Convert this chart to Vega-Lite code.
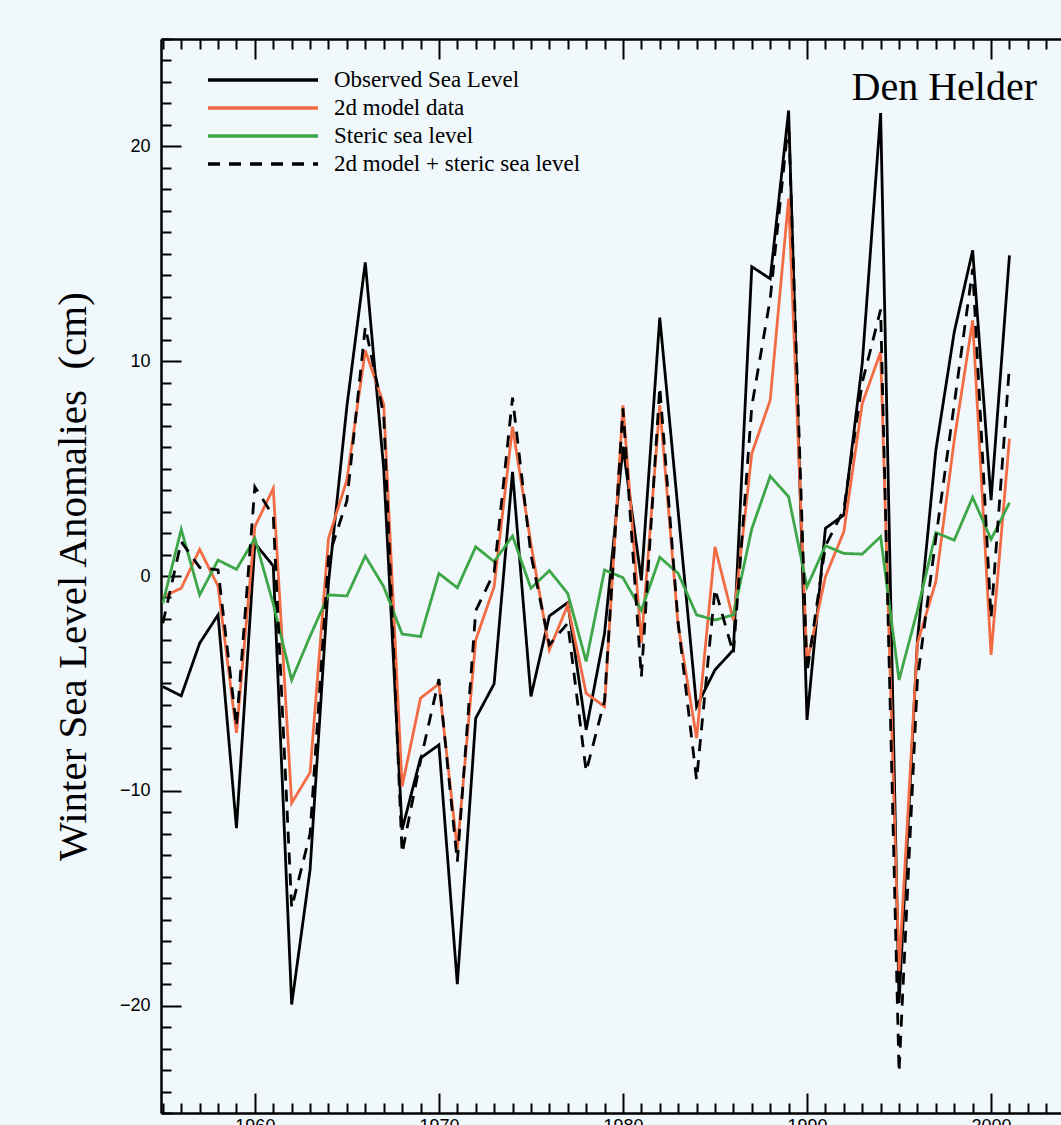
{
  "$schema": "https://vega.github.io/schema/vega-lite/v6.json",
  "width": 900,
  "height": 1074,
  "autosize": {"type": "none"},
  "padding": {"left": 161, "top": 39, "right": 0, "bottom": 12},
  "background": "#f0f8fc",
  "config": {
    "view": {"stroke": null},
    "axis": {
      "domainColor": "black",
      "domainWidth": 2.5,
      "tickColor": "black",
      "tickWidth": 2,
      "grid": false,
      "labelColor": "black",
      "labelFont": "Liberation Sans",
      "labelFontSize": 18,
      "labelOverlap": false,
      "labelFlush": false
    }
  },
  "title": {
    "text": "Den Helder",
    "orient": "top",
    "anchor": "end",
    "frame": "group",
    "font": "Liberation Serif",
    "fontSize": 40,
    "fontWeight": "normal",
    "color": "black",
    "baseline": "alphabetic",
    "offset": -110,
    "dx": -24
  },
  "data": {
    "values": [
      {"year": 1955, "obs": -5.15, "model": -0.96, "steric": -1.27, "combined": -2.2},
      {"year": 1956, "obs": -5.58, "model": -0.57, "steric": 2.17, "combined": 1.6},
      {"year": 1957, "obs": -3.13, "model": 1.24, "steric": -0.88, "combined": 0.4},
      {"year": 1958, "obs": -1.81, "model": -0.47, "steric": 0.74, "combined": 0.28},
      {"year": 1959, "obs": -11.74, "model": -7.3, "steric": 0.31, "combined": -7.0},
      {"year": 1960, "obs": 1.52, "model": 2.3, "steric": 1.75, "combined": 4.15},
      {"year": 1961, "obs": 0.47, "model": 4.08, "steric": -1.3, "combined": 2.8},
      {"year": 1962, "obs": -19.95, "model": -10.57, "steric": -4.84, "combined": -15.45},
      {"year": 1963, "obs": -13.67, "model": -9.15, "steric": -2.8, "combined": -12.0},
      {"year": 1964, "obs": -0.3, "model": 1.75, "steric": -0.88, "combined": 0.87},
      {"year": 1965, "obs": 7.9, "model": 4.47, "steric": -0.93, "combined": 3.5},
      {"year": 1966, "obs": 14.6, "model": 10.5, "steric": 0.93, "combined": 11.6},
      {"year": 1967, "obs": 5.0, "model": 8.0, "steric": -0.5, "combined": 7.5},
      {"year": 1968, "obs": -11.81, "model": -9.8, "steric": -2.7, "combined": -12.9},
      {"year": 1969, "obs": -8.48, "model": -5.69, "steric": -2.82, "combined": -8.6},
      {"year": 1970, "obs": -7.86, "model": -5.02, "steric": 0.12, "combined": -4.8},
      {"year": 1971, "obs": -19.0, "model": -12.74, "steric": -0.55, "combined": -13.3},
      {"year": 1972, "obs": -6.62, "model": -2.98, "steric": 1.36, "combined": -1.62},
      {"year": 1973, "obs": -5.02, "model": -0.5, "steric": 0.67, "combined": 0.17},
      {"year": 1974, "obs": 4.85, "model": 6.95, "steric": 1.86, "combined": 8.3},
      {"year": 1975, "obs": -5.61, "model": 1.5, "steric": -0.57, "combined": 1.0},
      {"year": 1976, "obs": -1.86, "model": -3.44, "steric": 0.25, "combined": -3.2},
      {"year": 1977, "obs": -1.24, "model": -1.35, "steric": -0.81, "combined": -2.2},
      {"year": 1978, "obs": -7.16, "model": -5.46, "steric": -3.98, "combined": -9.1},
      {"year": 1979, "obs": -2.67, "model": -6.08, "steric": 0.28, "combined": -5.8},
      {"year": 1980, "obs": 6.02, "model": 7.95, "steric": -0.08, "combined": 7.8},
      {"year": 1981, "obs": -0.2, "model": -3.13, "steric": -1.6, "combined": -4.7},
      {"year": 1982, "obs": 12.03, "model": 7.95, "steric": 0.87, "combined": 8.8},
      {"year": 1983, "obs": 3.0, "model": -2.3, "steric": 0.12, "combined": -2.2},
      {"year": 1984, "obs": -6.08, "model": -7.55, "steric": -1.81, "combined": -9.5},
      {"year": 1985, "obs": -4.37, "model": 1.36, "steric": -2.05, "combined": -0.6},
      {"year": 1986, "obs": -3.44, "model": -2.05, "steric": -1.81, "combined": -3.6},
      {"year": 1987, "obs": 14.4, "model": 5.7, "steric": 2.2, "combined": 7.9},
      {"year": 1988, "obs": 13.84, "model": 8.19, "steric": 4.65, "combined": 12.9},
      {"year": 1989, "obs": 21.67, "model": 17.57, "steric": 3.69, "combined": 21.2},
      {"year": 1990, "obs": -6.7, "model": -4.06, "steric": -0.5, "combined": -4.5},
      {"year": 1991, "obs": 2.22, "model": -0.03, "steric": 1.41, "combined": 1.4},
      {"year": 1992, "obs": 2.84, "model": 2.06, "steric": 1.05, "combined": 3.1},
      {"year": 1993, "obs": 9.89, "model": 8.03, "steric": 1.02, "combined": 9.0},
      {"year": 1994, "obs": 21.55, "model": 10.43, "steric": 1.83, "combined": 12.4},
      {"year": 1995, "obs": -19.88, "model": -18.4, "steric": -4.84, "combined": -23.1},
      {"year": 1996, "obs": -3.0, "model": -3.13, "steric": -1.6, "combined": -4.8},
      {"year": 1997, "obs": 5.86, "model": -0.26, "steric": 2.02, "combined": 1.76},
      {"year": 1998, "obs": 11.36, "model": 6.33, "steric": 1.67, "combined": 8.0},
      {"year": 1999, "obs": 15.16, "model": 11.9, "steric": 3.66, "combined": 14.3},
      {"year": 2000, "obs": 3.53, "model": -3.67, "steric": 1.71, "combined": -1.95},
      {"year": 2001, "obs": 14.93, "model": 6.4, "steric": 3.41, "combined": 9.8}
    ]
  },
  "transform": [
    {"fold": ["obs", "model", "steric", "combined"], "as": ["series", "value"]}
  ],
  "layer": [
    {
      "mark": {"type": "line", "strokeWidth": 2.8, "clip": true},
      "encoding": {
        "x": {
          "field": "year",
          "type": "quantitative",
          "scale": {"domain": [1954.9, 2003.8], "nice": false, "zero": false},
          "axis": {
            "orient": "bottom",
            "title": null,
            "values": [1955,1956,1957,1958,1959,1960,1961,1962,1963,1964,1965,1966,1967,1968,1969,1970,1971,1972,1973,1974,1975,1976,1977,1978,1979,1980,1981,1982,1983,1984,1985,1986,1987,1988,1989,1990,1991,1992,1993,1994,1995,1996,1997,1998,1999,2000,2001,2002,2003],
            "format": "d",
            "labelExpr": "datum.value % 10 === 0 ? datum.label : ''",
            "tickSize": {"condition": {"test": "datum.value % 10 === 0", "value": -20}, "value": -10},
            "labelPadding": 24
          }
        },
        "y": {
          "field": "value",
          "type": "quantitative",
          "scale": {"domain": [-25, 25], "nice": false, "zero": false},
          "axis": {
            "orient": "left",
            "title": "Winter Sea Level Anomalies\u00a0 (cm)",
            "titleFont": "Liberation Serif",
            "titleFontSize": 41,
            "titleFontWeight": "normal",
            "titleColor": "black",
            "titlePadding": 25,
            "values": [-25,-24,-23,-22,-21,-20,-19,-18,-17,-16,-15,-14,-13,-12,-11,-10,-9,-8,-7,-6,-5,-4,-3,-2,-1,0,1,2,3,4,5,6,7,8,9,10,11,12,13,14,15,16,17,18,19,20,21,22,23,24,25],
            "labelExpr": "datum.value % 10 === 0 ? datum.label : ''",
            "tickSize": {"condition": {"test": "datum.value % 10 === 0", "value": -20}, "value": -10},
            "labelPadding": 31
          }
        },
        "color": {
          "field": "series",
          "type": "nominal",
          "scale": {"domain": ["obs", "model", "steric", "combined"], "range": ["#000000", "#f26b43", "#3da647", "#000000"]},
          "legend": {
            "orient": "none",
            "legendX": 45,
            "legendY": 27,
            "title": null,
            "symbolType": "stroke",
            "symbolSize": 12100,
            "symbolStrokeWidth": 3.6,
            "clipHeight": 28,
            "rowPadding": 0,
            "labelFont": "Liberation Serif",
            "labelFontSize": 23,
            "labelColor": "black",
            "labelOffset": 14,
            "labelLimit": 500,
            "labelExpr": "{'obs': 'Observed Sea Level', 'model': '2d model data', 'steric': 'Steric sea level', 'combined': '2d model + steric sea level'}[datum.label]"
          }
        },
        "strokeDash": {
          "field": "series",
          "type": "nominal",
          "scale": {"domain": ["obs", "model", "steric", "combined"], "range": [[1, 0], [1, 0], [1, 0], [12, 9]]},
          "legend": {
            "orient": "none",
            "legendX": 45,
            "legendY": 27,
            "title": null,
            "symbolType": "stroke",
            "symbolSize": 12100,
            "symbolStrokeWidth": 3.6,
            "clipHeight": 28,
            "rowPadding": 0,
            "labelFont": "Liberation Serif",
            "labelFontSize": 23,
            "labelColor": "black",
            "labelOffset": 14,
            "labelLimit": 500,
            "labelExpr": "{'obs': 'Observed Sea Level', 'model': '2d model data', 'steric': 'Steric sea level', 'combined': '2d model + steric sea level'}[datum.label]"
          }
        }
      }
    },
    {
      "mark": {"type": "line", "opacity": 0},
      "encoding": {
        "x": {
          "field": "year",
          "type": "quantitative",
          "axis": {
            "orient": "top",
            "title": null,
            "labels": false,
            "values": [1955,1956,1957,1958,1959,1960,1961,1962,1963,1964,1965,1966,1967,1968,1969,1970,1971,1972,1973,1974,1975,1976,1977,1978,1979,1980,1981,1982,1983,1984,1985,1986,1987,1988,1989,1990,1991,1992,1993,1994,1995,1996,1997,1998,1999,2000,2001,2002,2003],
            "tickSize": {"condition": {"test": "datum.value % 10 === 0", "value": -20}, "value": -10}
          }
        },
        "y": {"field": "value", "type": "quantitative", "axis": null},
        "detail": {"field": "series"}
      }
    }
  ],
  "resolve": {"axis": {"x": "independent", "y": "independent"}}
}
